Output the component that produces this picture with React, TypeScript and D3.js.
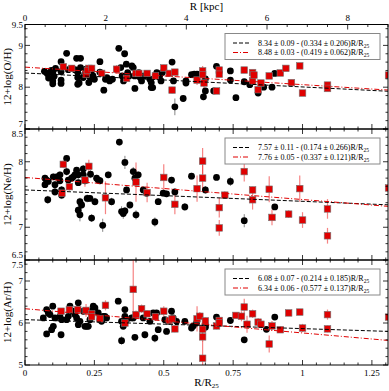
import React from "react";
import * as d3 from "d3";

// R/R25 of each region, abundance, error
const ohBlack = [
  [0.07,8.38,0.06],[0.08,8.33,0.05],[0.085,8.22,0.05],[0.095,8.4,0.06],[0.1,8.35,0.05],[0.105,8.26,0.06],[0.11,8.45,0.05],
  [0.1,8.08,0.06],[0.1,8.15,0.05],[0.13,8.61,0.06],[0.13,8.37,0.05],[0.13,8.17,0.05],[0.13,8.09,0.06],[0.15,8.81,0.05],
  [0.156,8.42,0.06],[0.17,8.45,0.05],[0.18,8.42,0.05],[0.186,8.69,0.06],[0.19,8.35,0.05],[0.19,8.23,0.06],[0.195,8.1,0.05],
  [0.19,8.07,0.05],[0.2,8.69,0.05],[0.2,8.47,0.06],[0.21,8.23,0.05],[0.215,8.31,0.05],[0.22,8.43,0.05],[0.225,8.31,0.06],
  [0.23,8.11,0.05],[0.235,8.23,0.05],[0.24,8.4,0.05],[0.245,8.27,0.05],[0.25,8.19,0.06],[0.27,8.61,0.05],[0.27,8.36,0.05],
  [0.284,7.93,0.06],[0.29,8.19,0.05],[0.295,8.23,0.05],[0.305,8.15,0.05],[0.315,8.19,0.05],[0.338,8.93,0.05],[0.345,8.47,0.05],
  [0.35,8.27,0.06],[0.355,8.15,0.05],[0.359,8.8,0.06],[0.365,8.55,0.07],[0.37,8.35,0.05],[0.375,8.27,0.05],[0.385,8.51,0.06],
  [0.39,8.47,0.05],[0.395,8.27,0.05],[0.396,7.97,0.06],[0.41,8.35,0.05],[0.415,8.23,0.05],[0.42,8.15,0.05],[0.43,8.27,0.05],
  [0.45,8.19,0.05],[0.455,8.11,0.05],[0.455,7.99,0.06],[0.46,7.99,0.05],[0.47,8.27,0.05],[0.475,8.35,0.05],[0.485,8.27,0.05],
  [0.49,8.15,0.05],[0.495,8.35,0.06],[0.53,8.6,0.07],[0.535,8.15,0.06],[0.54,7.53,0.2],[0.57,7.73,0.06],[0.58,8.1,0.05],
  [0.58,8.15,0.05],[0.6,8.3,0.05],[0.61,8.31,0.05],[0.62,8.31,0.05],[0.63,8.31,0.05],[0.643,7.77,0.08],[0.65,7.91,0.06],
  [0.65,8.2,0.06],[0.68,7.91,0.05],[0.69,8.5,0.06],[0.74,8.39,0.06],[0.74,8.17,0.06],[0.76,7.75,0.05],[0.79,8.13,0.06],
  [0.81,8.06,0.05],[0.84,7.86,0.06],[0.86,8.0,0.06],[0.9,8.33,0.05],[0.89,8.0,0.05],
];
const ohRed = [
  [0.138,8.49,0.08],[0.168,8.45,0.06],[0.22,8.31,0.06],[0.23,8.45,0.08],[0.225,8.4,0.06],[0.24,8.45,0.07],[0.276,8.33,0.08],
  [0.33,8.43,0.1],[0.366,8.21,0.08],[0.4,8.33,0.07],[0.41,8.33,0.06],[0.44,8.33,0.06],[0.47,8.27,0.07],[0.5,8.46,0.08],
  [0.52,8.33,0.06],[0.53,7.93,0.08],[0.54,8.36,0.07],[0.62,8.17,0.12],[0.64,8.39,0.12],[0.64,8.3,0.1],[0.645,8.1,0.12],
  [0.69,7.91,0.06],[0.7,8.41,0.07],[0.7,8.31,0.06],[0.79,8.41,0.06],[0.82,8.15,0.06],[0.82,8.35,0.06],[0.825,8.29,0.06],
  [0.84,7.94,0.06],[0.85,8.1,0.07],[0.88,8.27,0.07],[0.92,8.34,0.06],[0.94,8.45,0.06],[0.96,8.11,0.07],[0.99,8.51,0.07],
  [1.0,7.86,0.06],[1.09,8.05,0.07],[1.09,7.97,0.06],[1.31,8.29,0.08],
];
const neBlack = [
  [0.072,7.75,0.05],[0.072,7.65,0.05],[0.078,7.72,0.05],[0.084,7.7,0.05],[0.082,7.42,0.06],[0.102,7.77,0.05],[0.108,7.65,0.06],
  [0.114,7.77,0.05],[0.108,7.54,0.06],[0.126,7.8,0.05],[0.126,7.71,0.05],[0.132,7.57,0.06],[0.132,7.49,0.06],[0.15,8.05,0.05],
  [0.15,7.85,0.06],[0.156,7.72,0.05],[0.168,7.75,0.05],[0.174,7.77,0.05],[0.18,7.8,0.06],[0.186,7.87,0.05],[0.192,7.8,0.06],
  [0.192,7.68,0.05],[0.192,7.26,0.08],[0.198,7.39,0.06],[0.204,7.34,0.06],[0.198,7.19,0.1],[0.21,7.89,0.06],[0.21,7.8,0.05],
  [0.216,7.71,0.05],[0.224,7.44,0.06],[0.234,7.44,0.05],[0.236,7.81,0.06],[0.24,7.14,0.06],[0.252,7.39,0.06],[0.258,7.75,0.05],
  [0.264,7.72,0.06],[0.27,7.71,0.05],[0.28,7.03,0.1],[0.3,7.8,0.05],[0.312,7.39,0.06],[0.34,8.3,0.05],[0.348,7.24,0.08],
  [0.354,7.21,0.08],[0.36,7.99,0.1],[0.36,7.25,0.06],[0.366,7.57,0.05],[0.378,7.34,0.05],[0.39,7.85,0.07],[0.396,7.75,0.06],
  [0.4,7.19,0.07],[0.408,7.8,0.05],[0.426,7.57,0.05],[0.438,7.52,0.05],[0.468,7.08,0.07],[0.48,7.39,0.05],[0.498,7.52,0.05],
  [0.51,7.51,0.05],[0.528,7.72,0.05],[0.54,7.54,0.05],[0.576,7.31,0.06],[0.6,7.78,0.05],[0.65,7.57,0.06],[0.69,7.76,0.04],
  [0.74,7.7,0.07],[0.79,7.1,0.1],[0.9,7.31,0.04],
];
const neRed = [
  [0.138,7.96,0.06],[0.133,7.52,0.06],[0.16,7.62,0.06],[0.216,7.72,0.1],[0.23,7.93,0.1],[0.29,7.45,0.25],[0.4,7.69,0.3],
  [0.44,7.53,0.15],[0.5,7.76,0.2],[0.54,7.35,0.15],[0.62,7.59,0.2],[0.64,8.01,0.2],[0.64,7.75,0.2],[0.7,7.3,0.15],
  [0.7,6.99,0.12],[0.72,7.49,0.06],[0.79,7.85,0.15],[0.82,7.57,0.05],[0.82,7.42,0.15],[0.88,7.58,0.2],[0.89,7.15,0.12],
  [0.95,7.2,0.06],[0.99,7.59,0.2],[1.0,7.11,0.12],[1.09,7.28,0.15],[1.09,6.87,0.12],[1.31,7.6,0.15],
];
const arBlack = [
  [0.066,6.12,0.05],[0.078,6.32,0.05],[0.084,6.24,0.05],[0.09,6.2,0.05],[0.078,5.74,0.05],[0.1,6.4,0.05],[0.096,5.84,0.05],
  [0.102,5.92,0.06],[0.108,6.12,0.05],[0.126,6.16,0.05],[0.132,6.08,0.06],[0.13,5.72,0.05],[0.15,6.08,0.05],[0.156,6.16,0.05],
  [0.162,6.4,0.05],[0.172,6.28,0.05],[0.18,6.2,0.05],[0.186,6.12,0.05],[0.192,5.96,0.05],[0.198,6.04,0.05],[0.192,6.48,0.06],
  [0.21,6.28,0.05],[0.216,5.92,0.05],[0.222,5.92,0.05],[0.228,5.92,0.06],[0.234,6.08,0.05],[0.24,6.28,0.05],[0.246,6.4,0.05],
  [0.252,6.36,0.05],[0.264,6.24,0.05],[0.27,6.08,0.05],[0.276,6.04,0.05],[0.282,6.16,0.05],[0.288,6.16,0.05],[0.294,6.12,0.05],
  [0.336,6.52,0.05],[0.348,6.04,0.05],[0.354,5.92,0.06],[0.36,6.16,0.05],[0.36,6.32,0.05],[0.366,6.08,0.05],[0.348,5.58,0.1],
  [0.384,6.12,0.05],[0.39,6.12,0.05],[0.396,5.66,0.06],[0.426,6.12,0.05],[0.432,5.72,0.08],[0.45,6.04,0.05],[0.462,6.24,0.05],
  [0.474,6.24,0.06],[0.468,5.64,0.1],[0.48,5.84,0.06],[0.504,6.08,0.05],[0.51,5.8,0.06],[0.516,6.04,0.05],[0.528,6.28,0.06],
  [0.534,6.12,0.05],[0.546,6.04,0.05],[0.576,6.04,0.05],[0.6,5.88,0.05],[0.606,5.93,0.05],[0.618,6.0,0.05],[0.65,5.9,0.05],
  [0.65,5.96,0.05],[0.69,6.14,0.05],[0.74,6.06,0.06],[0.79,5.6,0.07],[0.87,5.85,0.06],[0.9,6.14,0.05],
];
const arRed = [
  [0.13,6.28,0.06],[0.16,6.32,0.06],[0.19,6.32,0.08],[0.22,6.3,0.15],[0.24,6.22,0.08],[0.24,6.15,0.06],[0.27,6.1,0.06],
  [0.29,6.42,0.12],[0.36,6.0,0.08],[0.39,6.8,0.7],[0.4,6.2,0.1],[0.42,6.34,0.1],[0.44,6.22,0.08],[0.47,6.15,0.1],
  [0.5,6.28,0.12],[0.52,6.06,0.06],[0.53,6.1,0.06],[0.54,5.86,0.08],[0.62,6.1,0.3],[0.63,6.16,0.1],[0.65,6.05,0.08],
  [0.64,5.85,0.15],[0.64,5.67,0.12],[0.64,5.16,0.4],[0.69,5.93,0.08],[0.7,6.06,0.08],[0.7,6.0,0.06],[0.76,6.18,0.06],
  [0.78,6.16,0.12],[0.79,6.38,0.2],[0.8,5.97,0.2],[0.82,6.22,0.1],[0.84,6.02,0.1],[0.85,5.97,0.08],[0.88,5.5,0.2],
  [0.89,5.93,0.12],[0.92,5.84,0.08],[0.95,6.24,0.05],[0.99,6.26,0.06],[1.0,5.88,0.1],[1.09,6.2,0.12],[1.09,5.86,0.08],
  [1.31,6.14,0.12],
];

// fits: [intercept, slope] for black and red
const blackFits = [[8.34, -0.334], [7.57, -0.174], [6.08, -0.214]];
const redFits = [[8.48, -0.419], [7.76, -0.337], [6.34, -0.577]];
const blackFitText = ["8.34 ± 0.09 - (0.334 ± 0.206)R/R", "7.57 ± 0.11 - (0.174 ± 0.266)R/R", "6.08 ± 0.07 - (0.214 ± 0.185)R/R"];
const redFitText = ["8.48 ± 0.03 - (0.419 ± 0.062)R/R", "7.76 ± 0.05 - (0.337 ± 0.121)R/R", "6.34 ± 0.06 - (0.577 ± 0.137)R/R"];

const yTitles = ["12+log(O/H)", "12+log(Ne/H)", "12+log(Ar/H)"];
const yDomains = [[7, 9.5], [6.5, 8.5], [5, 7.5]];
const yTickLabels = [[9.5, 9, 8, 7], [8.5, 8, 7, 6.5], [7.5, 7, 6, 5]];
const yMinorStep = [0.2, 0.125, 0.2];
const xTickLabels = [0, 0.25, 0.5, 0.75, 1, 1.25];
const kpcTickLabels = [0, 2, 4, 6, 8];

const blackSets = [ohBlack, neBlack, arBlack];
const redSets = [ohRed, neRed, arRed];

const W = 389, H = 391;
const L = 25, R = 388;
const panelTops = [24.5, 129, 260];
const panelBottoms = [129, 260, 365];
const FONT = "'Liberation Serif', 'DejaVu Serif', serif";
const RED = "#e00000";

const x = d3.scaleLinear().domain([0, 1.308]).range([L, R]);
const kpc = d3.scaleLinear().domain([0, 9.0]).range([L, R]);

const xMinor = d3.range(0, 1.31, 0.05);
const kpcMinor = d3.range(0, 9.01, 0.5);

function Panel({ i }: { i: number }) {
  const top = panelTops[i], bot = panelBottoms[i];
  const y = d3.scaleLinear().domain(yDomains[i]).range([bot, top]);
  const [d0, d1] = yDomains[i];
  const yMinor = d3.range(d0, d1 + 1e-6, yMinorStep[i]);
  const fitLine = (f: number[]) =>
    d3.line<number>().x((v) => x(v)).y((v) => y(f[0] + f[1] * v))([0, 1.308]) as string;
  const clip = `clip${i}`;
  const ly = top + 9;
  // labels at shared panel borders are nudged apart
  const labelShift = (v: number) => {
    if (v === d0 && i < 2) return -5;
    if (v === d1 && i > 0) return 5;
    return 0;
  };
  return (
    <g>
      <defs>
        <clipPath id={clip}>
          <rect x={L} y={top} width={R - L} height={bot - top} />
        </clipPath>
      </defs>
      <g clipPath={`url(#${clip})`}>
        {blackSets[i].map((d, k) => (
          <line key={"be" + k} x1={x(d[0])} x2={x(d[0])} y1={y(d[1] - d[2])} y2={y(d[1] + d[2])}
            stroke="#333" strokeOpacity={0.6} strokeWidth={1} />
        ))}
        {redSets[i].map((d, k) => (
          <line key={"re" + k} x1={x(d[0])} x2={x(d[0])} y1={y(d[1] - d[2])} y2={y(d[1] + d[2])}
            stroke="#f03030" strokeOpacity={0.6} strokeWidth={1.2} />
        ))}
        {blackSets[i].map((d, k) => (
          <circle key={"b" + k} cx={x(d[0])} cy={y(d[1])} r={3.4} fill="#000" />
        ))}
        {redSets[i].map((d, k) => (
          <rect key={"r" + k} x={x(d[0]) - 3.3} y={y(d[1]) - 3.3} width={6.6} height={6.6}
            fill={RED} stroke="#777" strokeWidth={0.6} />
        ))}
        <path d={fitLine(blackFits[i])} fill="none" stroke="#000" strokeWidth={1} strokeDasharray="4,2" />
        <path d={fitLine(redFits[i])} fill="none" stroke={RED} strokeWidth={1} strokeDasharray="5,2,1,2" />
      </g>
      <rect x={L} y={top} width={R - L} height={bot - top} fill="none" stroke="#000" strokeWidth={1} />
      {yMinor.map((v, k) => {
        const major = yTickLabels[i].some((t) => Math.abs(t - v) < 1e-6) || Math.abs(v - Math.round(v)) < 1e-6;
        const len = major ? 5 : 2.5;
        return (
          <g key={"yt" + k}>
            <line x1={L} x2={L + len} y1={y(v)} y2={y(v)} stroke="#000" strokeWidth={0.8} />
            <line x1={R - len} x2={R} y1={y(v)} y2={y(v)} stroke="#000" strokeWidth={0.8} />
          </g>
        );
      })}
      {yTickLabels[i].map((v) => (
        <text key={"yl" + v} x={L - 2} y={y(v) + labelShift(v)} dy="0.35em" textAnchor="end" fontSize={9}
          fontFamily={FONT}>
          {v}
        </text>
      ))}
      {xMinor.map((v, k) => {
        const major = Math.abs(v / 0.25 - Math.round(v / 0.25)) < 1e-6;
        const len = major ? 5 : 2.5;
        return (
          <g key={"xt" + k}>
            <line x1={x(v)} x2={x(v)} y1={bot} y2={bot - len} stroke="#000" strokeWidth={0.8} />
            {i > 0 && <line x1={x(v)} x2={x(v)} y1={top} y2={top + len} stroke="#000" strokeWidth={0.8} />}
          </g>
        );
      })}
      <text transform={`translate(11,${(top + bot) / 2}) rotate(-90)`} textAnchor="middle" fontSize={11}
        fontFamily={FONT}>
        {yTitles[i]}
      </text>
      <rect x={225} y={ly} width={155} height={26} fill="#fff" stroke="#888" strokeWidth={1} />
      <line x1={233} x2={250} y1={ly + 9.5} y2={ly + 9.5} stroke="#000" strokeWidth={1} strokeDasharray="4,2" />
      <line x1={233} x2={250} y1={ly + 19} y2={ly + 19} stroke={RED} strokeWidth={1} strokeDasharray="5,2,1,2" />
      <text x={258} y={ly + 12} fontSize={8} fontFamily={FONT}>
        {blackFitText[i]}
        <tspan fontSize={5.5} dy={2}>25</tspan>
      </text>
      <text x={258} y={ly + 21.5} fontSize={8} fontFamily={FONT}>
        {redFitText[i]}
        <tspan fontSize={5.5} dy={2}>25</tspan>
      </text>
    </g>
  );
}

export default function App() {
  return (
    <svg width={W} height={H} style={{ position: "absolute", left: 0, top: 0, background: "#fff" }}>
      <rect width={W} height={H} fill="#fff" />
      {[0, 1, 2].map((i) => (
        <Panel key={i} i={i} />
      ))}
      {kpcMinor.map((v, k) => {
        const major = Math.abs(v / 2 - Math.round(v / 2)) < 1e-6;
        return (
          <line key={"kt" + k} x1={kpc(v)} x2={kpc(v)} y1={panelTops[0]} y2={panelTops[0] + (major ? 5 : 2.5)}
            stroke="#000" strokeWidth={0.8} />
        );
      })}
      {kpcTickLabels.map((v) => (
        <text key={"kl" + v} x={kpc(v)} y={21} textAnchor="middle" fontSize={9} fontFamily={FONT}>
          {v}
        </text>
      ))}
      <text x={(L + R) / 2} y={10} textAnchor="middle" fontSize={11} fontFamily={FONT}>R [kpc]</text>
      {xTickLabels.map((v) => (
        <text key={"xl" + v} x={x(v)} y={376} textAnchor="middle" fontSize={9} fontFamily={FONT}>
          {v}
        </text>
      ))}
      <text x={(L + R) / 2} y={386} textAnchor="middle" fontSize={11} fontFamily={FONT}>
        R/R<tspan fontSize={7} dy={2}>25</tspan>
      </text>
    </svg>
  );
}
